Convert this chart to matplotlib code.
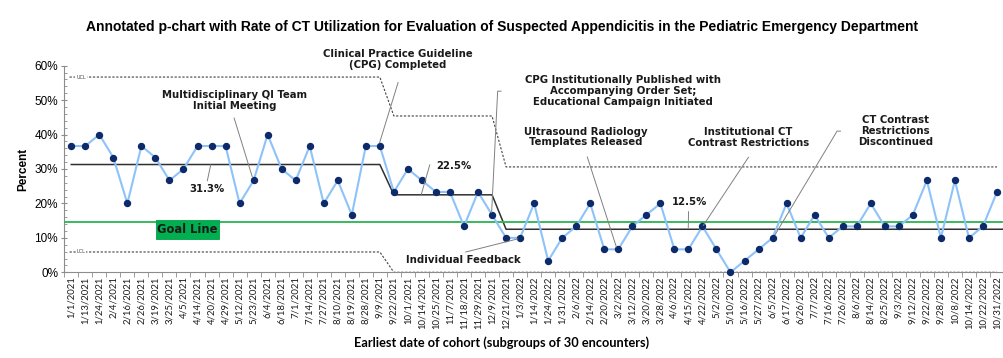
import matplotlib
matplotlib.use("Agg")
import matplotlib.pyplot as plt
from matplotlib.patches import Rectangle
from matplotlib.ticker import PercentFormatter, MultipleLocator
import numpy as np

dates = ["1/1/2021", "1/13/2021", "1/24/2021", "2/4/2021", "2/16/2021", "2/26/2021",
         "3/19/2021", "3/25/2021", "4/5/2021", "4/14/2021", "4/20/2021", "4/29/2021",
         "5/12/2021", "5/23/2021", "6/4/2021", "6/18/2021", "7/1/2021", "7/14/2021",
         "7/27/2021", "8/10/2021", "8/19/2021", "8/28/2021", "9/9/2021", "9/22/2021",
         "10/1/2021", "10/14/2021", "10/25/2021", "11/7/2021", "11/18/2021", "11/29/2021",
         "12/9/2021", "12/21/2021", "1/3/2022", "1/14/2022", "1/24/2022", "1/31/2022",
         "2/6/2022", "2/14/2022", "2/20/2022", "3/2/2022", "3/12/2022", "3/20/2022",
         "3/28/2022", "4/6/2022", "4/15/2022", "4/22/2022", "5/2/2022", "5/10/2022",
         "5/16/2022", "5/27/2022", "6/5/2022", "6/17/2022", "6/26/2022", "7/7/2022",
         "7/16/2022", "7/26/2022", "8/6/2022", "8/14/2022", "8/25/2022", "9/3/2022",
         "9/12/2022", "9/22/2022", "9/28/2022", "10/8/2022", "10/14/2022", "10/22/2022",
         "10/31/2022"]

# CT scans per subgroup of 30 encounters
ct_count = [11, 11, 12, 10, 6, 11, 10, 8, 9, 11, 11, 11, 6, 8, 12, 9, 8, 11, 6, 8,
            5, 11, 11, 7, 9, 8, 7, 7, 4, 7, 5, 3, 3, 6, 1, 3, 4, 6, 2, 2,
            4, 5, 6, 2, 2, 4, 2, 0, 1, 2, 3, 6, 3, 5, 3, 4, 4, 6, 4, 4,
            5, 8, 3, 8, 3, 4, 7]
subgroup_n = 30

# phases (first and last subgroup index), center line and limits in %
phase_start = [0, 23, 31]
phase_end = [22, 30, 66]
center = [31.3, 22.5, 12.5]
ucl = [56.7, 45.4, 30.6]
lcl = [5.9, 0.0, 0.0]
goal = 14.6

pct = np.array(ct_count) / subgroup_n * 100
x = np.arange(len(dates))


def step_line(vals, first, last):
    xs, ys = [], []
    for i, v in enumerate(vals):
        s = phase_start[i] if i > 0 else first
        e = phase_end[i] if i < len(vals) - 1 else last
        xs += [s, e]
        ys += [v, v]
    return xs, ys


fig = plt.figure(figsize=(10.04, 3.58), dpi=100)
ax = fig.add_axes([0.064, 0.2394, 0.936, 0.5771])

# control limits
ux, uy = step_line(ucl, -0.12, 66.0)
lx, ly = step_line(lcl, -0.12, 66.0)
ax.plot(ux, uy, color="#404040", lw=0.8, ls=(0, (2, 1.5)), zorder=2)
ax.plot(lx, ly, color="#404040", lw=0.8, ls=(0, (2, 1.5)), zorder=2, clip_on=False)
ax.text(0.7, ucl[0], "UCL", fontsize=3.5, color="#404040", va="center", ha="center",
        bbox=dict(facecolor="white", edgecolor="none", pad=0.6), zorder=3)
ax.text(0.7, lcl[0], "LCL", fontsize=3.5, color="#404040", va="center", ha="center",
        bbox=dict(facecolor="white", edgecolor="none", pad=0.6), zorder=3)

# center line
cx, cy = step_line(center, 0, 66.7)
ax.plot(cx, cy, color="#303030", lw=1.1, zorder=3, clip_on=False)

# goal line
ax.plot([-0.5, 66.35], [goal, goal], color="#2BB34F", lw=1.3, zorder=3)
ax.add_patch(Rectangle((6.03, 9.67), 4.51, 5.52, facecolor="#00B050",
                       edgecolor="#00A048", lw=0.6, zorder=4))
ax.text(8.28, 12.43, "Goal Line", ha="center", va="center", fontsize=8.3,
        fontweight="bold", color="#1a1a1a", zorder=5)

# data
ax.plot(x, pct, color="#8EC3FA", lw=1.5, zorder=4)
ax.plot(x, pct, "o", color="#0D2A6B", ms=4.3, zorder=5, clip_on=False)

# annotations
lead = dict(color="#808080", lw=0.7, zorder=6, clip_on=False)
tk = dict(ha="center", va="center", fontsize=7.3, fontweight="bold", color="#1a1a1a",
          linespacing=1.1, zorder=7)

ax.text(11.64, 49.9, "Multidisciplinary QI Team\nInitial Meeting", **tk)
ax.plot([11.61, 12.9], [44.8, 27.8], **lead)

ax.text(9.71, 24.2, "31.3%", **tk)
ax.plot([9.70, 9.94], [26.6, 31.2], **lead)

ax.text(23.27, 61.8, "Clinical Practice Guideline\n(CPG) Completed", clip_on=False, **tk)
ax.plot([23.3, 21.98], [55.1, 37.6], **lead)

ax.text(27.27, 30.9, "22.5%", **tk)
ax.plot([25.56, 24.96], [31.2, 22.7], **lead)

ax.text(39.36, 52.6, "CPG Institutionally Published with\nAccompanying Order Set;\n"
        "Educational Campaign Initiated", **tk)
ax.plot([30.64, 30.40, 29.97], [52.6, 52.6, 17.4], **lead)

ax.text(36.71, 39.3, "Ultrasound Radiology\nTemplates Released", **tk)
ax.plot([36.79, 38.86], [33.5, 7.4], **lead)

ax.text(27.99, 3.6, "Individual Feedback", **tk)
ax.plot([28.13, 31.83], [5.9, 9.7], **lead)

ax.text(44.08, 20.5, "12.5%", **tk)
ax.plot([44.01, 43.99], [17.6, 12.95], **lead)

ax.text(48.28, 39.2, "Institutional CT\nContrast Restrictions", **tk)
ax.plot([48.28, 45.06], [33.4, 13.6], **lead)

ax.text(58.75, 41.0, "CT Contrast\nRestrictions\nDiscontinued", **tk)
ax.plot([54.84, 54.60, 50.19], [41.0, 41.0, 11.0], **lead)

# axes styling
ax.set_xlim(-0.5, 66.5)
ax.set_ylim(0, 60)
ax.yaxis.set_major_locator(MultipleLocator(10))
ax.yaxis.set_minor_locator(MultipleLocator(2))
ax.yaxis.set_major_formatter(PercentFormatter(100, decimals=0))
for s in ["top", "right"]:
    ax.spines[s].set_visible(False)
for s in ["left", "bottom"]:
    ax.spines[s].set_color("#8c8c8c")
    ax.spines[s].set_linewidth(0.8)

ax.set_xticks(x)
ax.set_xticklabels(dates, rotation=90, fontsize=6.9, family="Lato", color="#1a1a1a")
ax.set_xticks(np.arange(-0.5, 67, 1), minor=True)
ax.tick_params(axis="x", which="major", length=0, pad=3)
ax.tick_params(axis="x", which="minor", length=3.5, direction="out", color="#8c8c8c")
ax.tick_params(axis="y", which="major", length=5, direction="inout", color="#8c8c8c",
               labelsize=8.5, pad=2)
ax.tick_params(axis="y", which="minor", length=2.5, direction="in", color="#8c8c8c")
for lab in ax.get_yticklabels():
    lab.set_family("Liberation Sans")

ax.set_ylabel("Percent", fontsize=8.5, fontweight="bold", family="Liberation Sans", labelpad=4)
fig.text(0.5, 0.042, "Earliest date of cohort (subgroups of 30 encounters)", ha="center",
         va="center", fontsize=9.2, fontweight="bold", family="Lato")
fig.suptitle("Annotated p-chart with Rate of CT Utilization for Evaluation of Suspected "
             "Appendicitis in the Pediatric Emergency Department", x=0.5, y=0.944,
             fontsize=10.0, fontweight="bold", family="Liberation Sans")

fig.savefig("out.png", dpi=100)
